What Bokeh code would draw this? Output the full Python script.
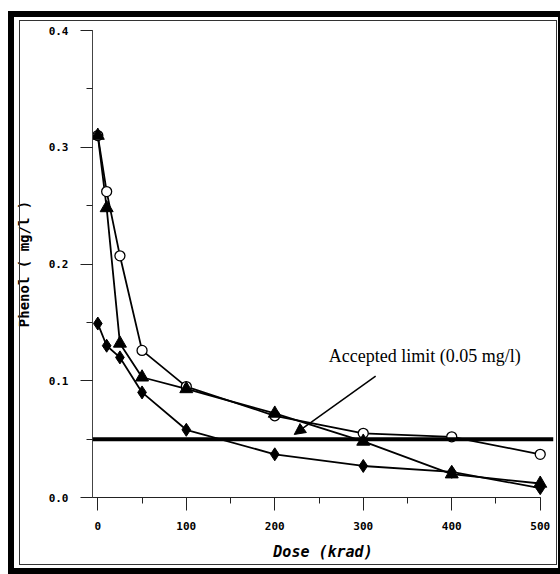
from bokeh.plotting import figure
from bokeh.models import (Range1d, SingleIntervalTicker, PrintfTickFormatter, Span,
                          Arrow, NormalHead, Label, InlineStyleSheet)
from bokeh.embed import file_html
from bokeh.resources import INLINE

# Data
dose = [0, 10, 25, 50, 100, 200, 300, 400, 500]
phenol_triangle = [0.310, 0.248, 0.132, 0.103, 0.093, 0.072, 0.048, 0.020, 0.012]
phenol_circle = [0.310, 0.262, 0.207, 0.126, 0.095, 0.070, 0.055, 0.052, 0.037]
phenol_diamond = [0.149, 0.130, 0.120, 0.090, 0.058, 0.037, 0.027, 0.022, 0.008]
limit_value = 0.05
limit_text = "Accepted limit (0.05 mg/l)"
arrow_start = (314, 0.104)
arrow_end = (222, 0.054)
label_pos = (261, 0.1215)

frame_css = InlineStyleSheet(css="""
:host { position: relative; }
:host::before {
  content: ""; position: absolute; left: 8px; top: 11px; right: -4px; bottom: 0px;
  border: 6px solid black; box-sizing: border-box; pointer-events: none; z-index: 10;
}
:host::after {
  content: ""; position: absolute; left: 19px; top: 20px; right: 3px; bottom: 9px;
  border: 1.5px solid #333; box-sizing: border-box; pointer-events: none; z-index: 10;
}
""")

p = figure(width=560, height=574, output_backend="svg", toolbar_location=None,
           x_range=Range1d(-6, 515), y_range=Range1d(0, 0.4),
           min_border_left=92, min_border_right=7, min_border_top=30, min_border_bottom=77,
           background_fill_color="white", border_fill_color="white",
           stylesheets=[frame_css])
p.outline_line_color = None
p.grid.visible = False

mono = "DejaVu Sans Mono"

xa = p.xaxis[0]
xa.ticker = SingleIntervalTicker(interval=100, num_minor_ticks=2)
xa.bounds = (-6, 500)
xa.major_tick_out = 13
xa.major_tick_in = 0
xa.minor_tick_out = 6
xa.minor_tick_in = 0
xa.major_label_standoff = 11
xa.major_label_text_font = mono
xa.major_label_text_font_style = "bold"
xa.major_label_text_font_size = "11px"
xa.major_label_text_color = "black"
xa.axis_label = "Dose (krad)"
xa.axis_label_text_font = mono
xa.axis_label_text_font_style = "bold italic"
xa.axis_label_text_font_size = "15px"
xa.axis_label_text_color = "black"
xa.axis_label_standoff = 10
xa.axis_line_color = "#222"
xa.major_tick_line_color = "#222"
xa.minor_tick_line_color = "#222"

ya = p.yaxis[0]
ya.ticker = SingleIntervalTicker(interval=0.1, num_minor_ticks=2)
ya.formatter = PrintfTickFormatter(format="%.1f")
ya.bounds = (0, 0.4)
ya.major_tick_out = 12
ya.major_tick_in = 0
ya.minor_tick_out = 6
ya.minor_tick_in = 0
ya.major_label_standoff = 12
ya.major_label_text_font = mono
ya.major_label_text_font_style = "bold"
ya.major_label_text_font_size = "11px"
ya.major_label_text_color = "black"
ya.axis_label = "Phenol ( mg/l )"
ya.axis_label_text_font = mono
ya.axis_label_text_font_style = "bold"
ya.axis_label_text_font_size = "14px"
ya.axis_label_text_color = "black"
ya.axis_label_standoff = 14
ya.axis_line_color = "#444"
ya.major_tick_line_color = "#222"
ya.minor_tick_line_color = "#222"

# accepted limit line
p.add_layout(Span(location=limit_value, dimension="width", line_color="black", line_width=4))

# series
p.line(dose, phenol_circle, line_color="black", line_width=1.8)
p.line(dose, phenol_triangle, line_color="black", line_width=1.8)
p.line(dose, phenol_diamond, line_color="black", line_width=1.8)

p.scatter(dose, phenol_circle, marker="circle", size=10, fill_color="white",
          line_color="black", line_width=1.3)
p.scatter(dose, phenol_triangle, marker="triangle", size=13, fill_color="black",
          line_color="black")
p.scatter(dose, phenol_diamond, marker="diamond", size=13, fill_color="black",
          line_color="black")

# annotation
p.add_layout(Arrow(x_start=arrow_start[0], y_start=arrow_start[1],
                   x_end=arrow_end[0], y_end=arrow_end[1],
                   line_color="black", line_width=1.5,
                   end=NormalHead(size=11, fill_color="black", line_color="black")))
p.add_layout(Label(x=label_pos[0], y=label_pos[1], text=limit_text,
                   text_font="Liberation Serif", text_font_size="18px",
                   text_baseline="middle", text_align="left", text_color="black"))

open("out.html", "w").write(file_html(p, INLINE))
